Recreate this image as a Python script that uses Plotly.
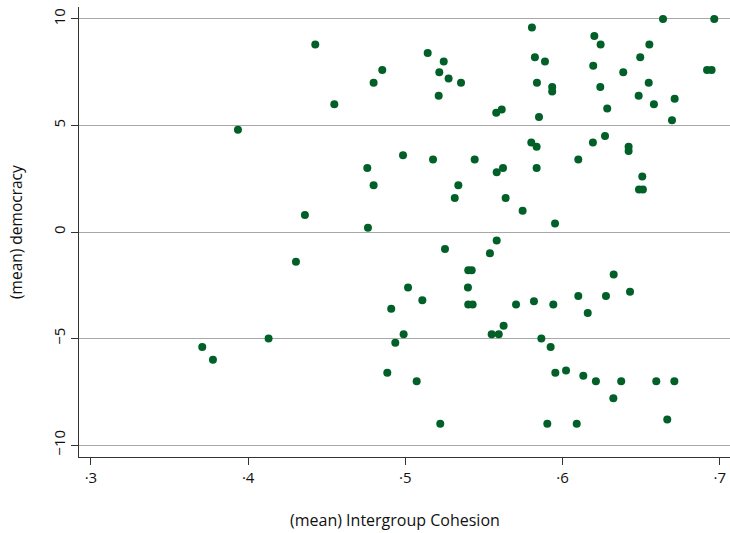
import plotly.graph_objects as go

cohesion = [
    0.4427, 0.3935, 0.4548, 0.4798, 0.4853, 0.5142, 0.5244, 0.5216, 0.5275, 0.5354,
    0.5212, 0.4985, 0.5176, 0.4758, 0.4798, 0.5337, 0.5314, 0.4361, 0.4762, 0.6639,
    0.6965, 0.5805, 0.6202, 0.6242, 0.6552, 0.5824, 0.5888, 0.6494, 0.6195, 0.6386,
    0.6919, 0.6948, 0.5837, 0.5934, 0.5934, 0.6240, 0.6548, 0.6484, 0.6713, 0.6581,
    0.5578, 0.5613, 0.5850, 0.6284, 0.6696, 0.6270, 0.6193, 0.5801, 0.5835, 0.6420,
    0.6420, 0.5441, 0.5581, 0.5621, 0.5835, 0.6100, 0.6507, 0.6486, 0.6511, 0.5638,
    0.5746, 0.5952, 0.5252, 0.4304, 0.5017, 0.5108, 0.4910, 0.4989, 0.4936, 0.4130,
    0.3708, 0.3776, 0.4885, 0.5072, 0.5222, 0.5581, 0.5538, 0.5400, 0.5422, 0.5398,
    0.5400, 0.5428, 0.5704, 0.5818, 0.5941, 0.6100, 0.6160, 0.6276, 0.6325, 0.6429,
    0.5549, 0.5594, 0.5625, 0.5865, 0.5924, 0.5954, 0.6022, 0.6132, 0.6212, 0.6373,
    0.6596, 0.6711, 0.6323, 0.5903, 0.6090, 0.6666,
]
democracy = [
    8.8, 4.8, 6.0, 7.0, 7.6, 8.4, 8.0, 7.5, 7.2, 7.0,
    6.4, 3.6, 3.4, 3.0, 2.2, 2.2, 1.6, 0.8, 0.2, 10.0,
    10.0, 9.6, 9.2, 8.8, 8.8, 8.2, 8.0, 8.2, 7.8, 7.5,
    7.6, 7.6, 7.0, 6.8, 6.6, 6.8, 7.0, 6.4, 6.25, 6.0,
    5.6, 5.75, 5.4, 5.8, 5.25, 4.5, 4.2, 4.2, 4.0, 4.0,
    3.8, 3.4, 2.8, 3.0, 3.0, 3.4, 2.6, 2.0, 2.0, 1.6,
    1.0, 0.4, -0.8, -1.4, -2.6, -3.2, -3.6, -4.8, -5.2, -5.0,
    -5.4, -6.0, -6.6, -7.0, -9.0, -0.4, -1.0, -1.8, -1.8, -2.6,
    -3.4, -3.4, -3.4, -3.25, -3.4, -3.0, -3.8, -3.0, -2.0, -2.8,
    -4.8, -4.8, -4.4, -5.0, -5.4, -6.6, -6.5, -6.75, -7.0, -7.0,
    -7.0, -7.0, -7.8, -9.0, -9.0, -8.8,
]

x_ticks = [0.3, 0.4, 0.5, 0.6, 0.7]
x_tick_labels = ["·3", "·4", "·5", "·6", "·7"]
y_ticks = [-10, -5, 0, 5, 10]
y_tick_labels = ["−10", "−5", "0", "5", "10"]
x_title = "(mean) Intergroup Cohesion"
y_title = "(mean) democracy"

FONT = "Open Sans"
fig = go.Figure(go.Scatter(
    x=cohesion, y=democracy, mode="markers",
    marker=dict(color="#006028", size=8, line=dict(width=0)),
    hoverinfo="x+y",
))

fig.update_layout(
    width=730, height=533,
    margin=dict(l=79, r=0, t=7, b=76, autoexpand=False),
    paper_bgcolor="white", plot_bgcolor="white",
    font=dict(family=FONT, size=15, color="#111"),
    showlegend=False,
    annotations=[
        dict(text=x_title, xref="paper", yref="paper", x=0.4854, y=-0.1409,
             xanchor="center", yanchor="middle", showarrow=False,
             font=dict(size=16)),
        dict(text=y_title, xref="paper", yref="paper", x=-0.0968, y=0.5,
             xanchor="center", yanchor="middle", showarrow=False, textangle=-90,
             font=dict(size=15.5)),
    ],
)
fig.update_xaxes(
    range=[0.2924, 0.7065], tickvals=x_ticks, ticktext=x_tick_labels,
    showgrid=False, zeroline=False, automargin=False,
    showline=True, linecolor="#333", linewidth=1,
    ticks="outside", ticklen=7, tickcolor="#333", tickwidth=1,
    tickfont=dict(size=15),
)
fig.update_yaxes(
    range=[-10.56, 10.56], tickvals=y_ticks, ticktext=y_tick_labels,
    tickangle=-90, automargin=False,
    showgrid=True, gridcolor="#a8a8a8", gridwidth=1.3, zeroline=False,
    showline=True, linecolor="#333", linewidth=1,
    ticks="outside", ticklen=7, tickcolor="#333", tickwidth=1,
    tickfont=dict(size=15),
)

fig.write_html(
    "out.html",
    config={"displayModeBar": False},
    post_script="document.body.style.margin='0';document.body.style.overflow='hidden';",
)
